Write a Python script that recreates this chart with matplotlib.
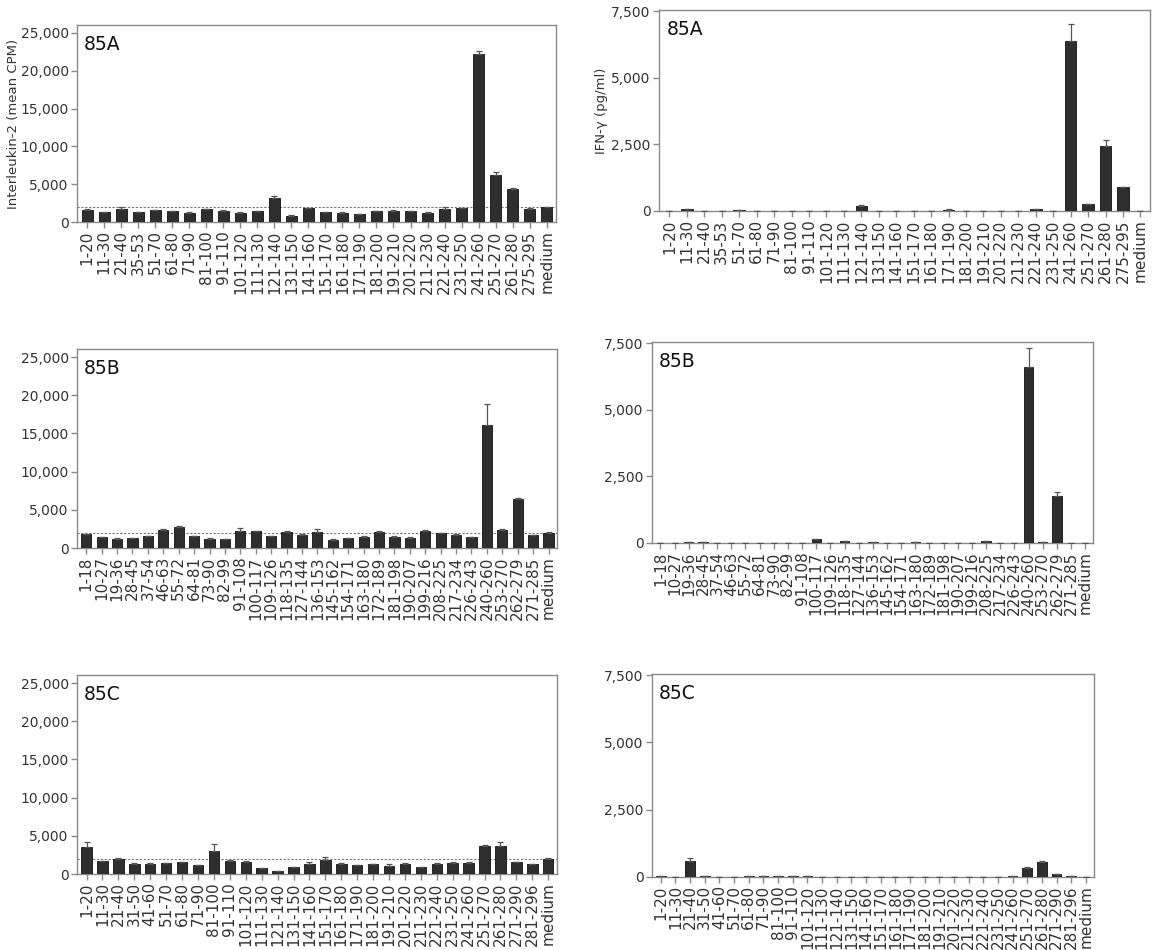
import matplotlib
matplotlib.use("Agg")
import matplotlib.pyplot as plt
from matplotlib.ticker import FuncFormatter
import numpy as np

plt.rcParams['font.family'] = ['DejaVu Sans']

# ---------------- data ----------------
labels_a = ["1-20", "11-30", "21-40", "35-53", "51-70", "61-80", "71-90", "81-100", "91-110",
            "101-120", "111-130", "121-140", "131-150", "141-160", "151-170", "161-180",
            "171-190", "181-200", "191-210", "201-220", "211-230", "221-240", "231-250",
            "241-260", "251-270", "261-280", "275-295", "medium"]
labels_b = ["1-18", "10-27", "19-36", "28-45", "37-54", "46-63", "55-72", "64-81", "73-90",
            "82-99", "91-108", "100-117", "109-126", "118-135", "127-144", "136-153",
            "145-162", "154-171", "163-180", "172-189", "181-198", "190-207", "199-216",
            "208-225", "217-234", "226-243", "240-260", "253-270", "262-279", "271-285", "medium"]
labels_c = ["1-20", "11-30", "21-40", "31-50", "41-60", "51-70", "61-80", "71-90", "81-100",
            "91-110", "101-120", "111-130", "121-140", "131-150", "141-160", "151-170",
            "161-180", "171-190", "181-200", "191-210", "201-220", "211-230", "221-240",
            "231-250", "241-260", "251-270", "261-280", "271-290", "281-296", "medium"]

il2_a = [1630, 1320, 1760, 1320, 1590, 1450, 1190, 1720, 1500, 1230, 1410, 3170, 840, 1800,
         1320, 1230, 1010, 1410, 1500, 1410, 1230, 1720, 1800, 22200, 6170, 4410, 1760, 1980]
il2_a_err = [60, 60, 200, 60, 60, 60, 150, 60, 60, 60, 60, 250, 60, 80,
             60, 60, 60, 60, 60, 60, 60, 200, 60, 450, 500, 150, 60, 60]

il2_b = [1830, 1440, 1220, 1310, 1530, 2400, 2750, 1530, 1220, 1140, 2180, 2230, 1530, 2100,
         1660, 2050, 1090, 1310, 1480, 2100, 1480, 1350, 2270, 1960, 1750, 1440, 16070, 2400,
         6460, 1660, 2010]
il2_b_err = [60, 60, 60, 60, 60, 60, 80, 60, 60, 60, 440, 60, 60, 60,
             150, 440, 60, 60, 60, 80, 60, 60, 60, 60, 60, 60, 2750, 60,
             60, 60, 60]

il2_c = [3560, 1670, 1980, 1320, 1320, 1410, 1540, 1140, 2990, 1710, 1630, 790, 350, 920,
         1360, 1890, 1270, 1140, 1270, 1100, 1360, 920, 1360, 1490, 1450, 3650, 3690, 1540,
         1270, 2020]
il2_c_err = [660, 60, 60, 60, 60, 60, 60, 60, 880, 60, 60, 60, 60, 60,
             240, 350, 230, 60, 60, 200, 60, 60, 60, 60, 60, 100, 530, 60,
             60, 60]

ifn_a = [10, 60, 0, 5, 20, 0, 5, 0, 5, 0, 0, 190, 0, 0, 0, 10, 50, 0, 0, 0, 0, 60, 0,
         6380, 250, 2430, 890, 0]
ifn_a_err = [0, 10, 0, 0, 5, 0, 0, 0, 0, 0, 0, 20, 0, 0, 0, 0, 10, 0, 0, 0, 0, 10, 0,
             650, 20, 250, 20, 0]

ifn_b = [5, 5, 20, 20, 5, 5, 5, 5, 5, 5, 5, 150, 5, 75, 5, 20, 5, 5, 30, 15, 5, 5, 5, 75,
         5, 5, 6620, 20, 1760, 5, 5]
ifn_b_err = [0, 0, 0, 0, 0, 0, 0, 0, 0, 0, 0, 15, 0, 10, 0, 0, 0, 0, 5, 0, 0, 0, 0, 10,
             0, 0, 680, 0, 160, 0, 0]

ifn_c = [30, 5, 600, 20, 10, 15, 20, 20, 20, 20, 20, 5, 5, 5, 15, 5, 5, 15, 5, 5, 5, 5, 5,
         5, 20, 340, 550, 110, 30, 0]
ifn_c_err = [0, 0, 90, 0, 0, 0, 0, 0, 0, 0, 0, 0, 0, 0, 0, 0, 0, 0, 0, 0, 0, 0, 0,
             0, 0, 30, 40, 10, 0, 0]

baseline = 2000

# ---------------- layout ----------------
W, H = 1158, 950
fig = plt.figure(figsize=(W / 100, H / 100), dpi=100)


def px_axes(x0, x1, top, bottom):
    return fig.add_axes([x0 / W, (H - bottom) / H, (x1 - x0) / W, (bottom - top) / H])


GRAY = "#8a8a8a"
TXT = "#333333"
BAR = "#2e2e2e"


def panel(ax, labels, vals, errs, tag, ymax, yticks, ylabel=None, label_x=None, dashed=False):
    x = np.arange(len(labels))
    ax.bar(x, vals, width=0.66, color=BAR, edgecolor="#111111", linewidth=0.6,
           yerr=[np.zeros(len(errs)), errs], error_kw=dict(ecolor="#555555", elinewidth=0.9,
                                                           capsize=2.5, capthick=0.9),
           zorder=3)
    if dashed:
        ax.axhline(baseline, color="#777777", linestyle=(0, (2, 1.5)), linewidth=0.8, zorder=2)
    ax.set_xlim(-0.6, len(labels) - 0.45)
    ax.set_ylim(0, ymax)
    ax.set_yticks(yticks)
    ax.yaxis.set_major_formatter(FuncFormatter(lambda v, p: f"{int(v):,}"))
    ax.set_xticks(x)
    ax.set_xticklabels(labels, rotation=90, fontsize=11, color=TXT)
    ax.tick_params(axis='y', labelsize=10, labelcolor=TXT, color=GRAY, length=4, width=1, pad=2)
    ax.tick_params(axis='x', color=GRAY, length=4, width=1, pad=2)
    for s in ax.spines.values():
        s.set_color(GRAY)
        s.set_linewidth(1.0)
    ax.text(0.015, 0.95, tag, transform=ax.transAxes, ha='left', va='top',
            fontsize=13.5, color="#111111")
    if ylabel:
        ax.set_ylabel(ylabel, fontsize=9.5, color=TXT)
        ax.yaxis.set_label_coords(label_x, 0.5)


il2_ticks = [0, 5000, 10000, 15000, 20000, 25000]
ifn_ticks = [0, 2500, 5000, 7500]

ax1 = px_axes(77, 556, 25, 222)
panel(ax1, labels_a, il2_a, il2_a_err, "85A", 26050, il2_ticks,
      ylabel="Interleukin-2 (mean CPM)", label_x=(20 - 77) / 479, dashed=True)
ax2 = px_axes(77, 557, 349, 548)
panel(ax2, labels_b, il2_b, il2_b_err, "85B", 26050, il2_ticks, dashed=True)
ax3 = px_axes(77, 557, 675, 874)
panel(ax3, labels_c, il2_c, il2_c_err, "85C", 26050, il2_ticks, dashed=True)

ax4 = px_axes(659, 1150, 10, 211)
panel(ax4, labels_a, ifn_a, ifn_a_err, "85A", 7540, ifn_ticks, ylabel="IFN-γ (pg/ml)",
      label_x=(608 - 659) / 491)
ax5 = px_axes(652, 1093, 342, 543)
panel(ax5, labels_b, ifn_b, ifn_b_err, "85B", 7540, ifn_ticks)
ax6 = px_axes(652, 1094, 674, 877)
panel(ax6, labels_c, ifn_c, ifn_c_err, "85C", 7540, ifn_ticks)

fig.savefig("out.png", dpi=100, facecolor="white")
